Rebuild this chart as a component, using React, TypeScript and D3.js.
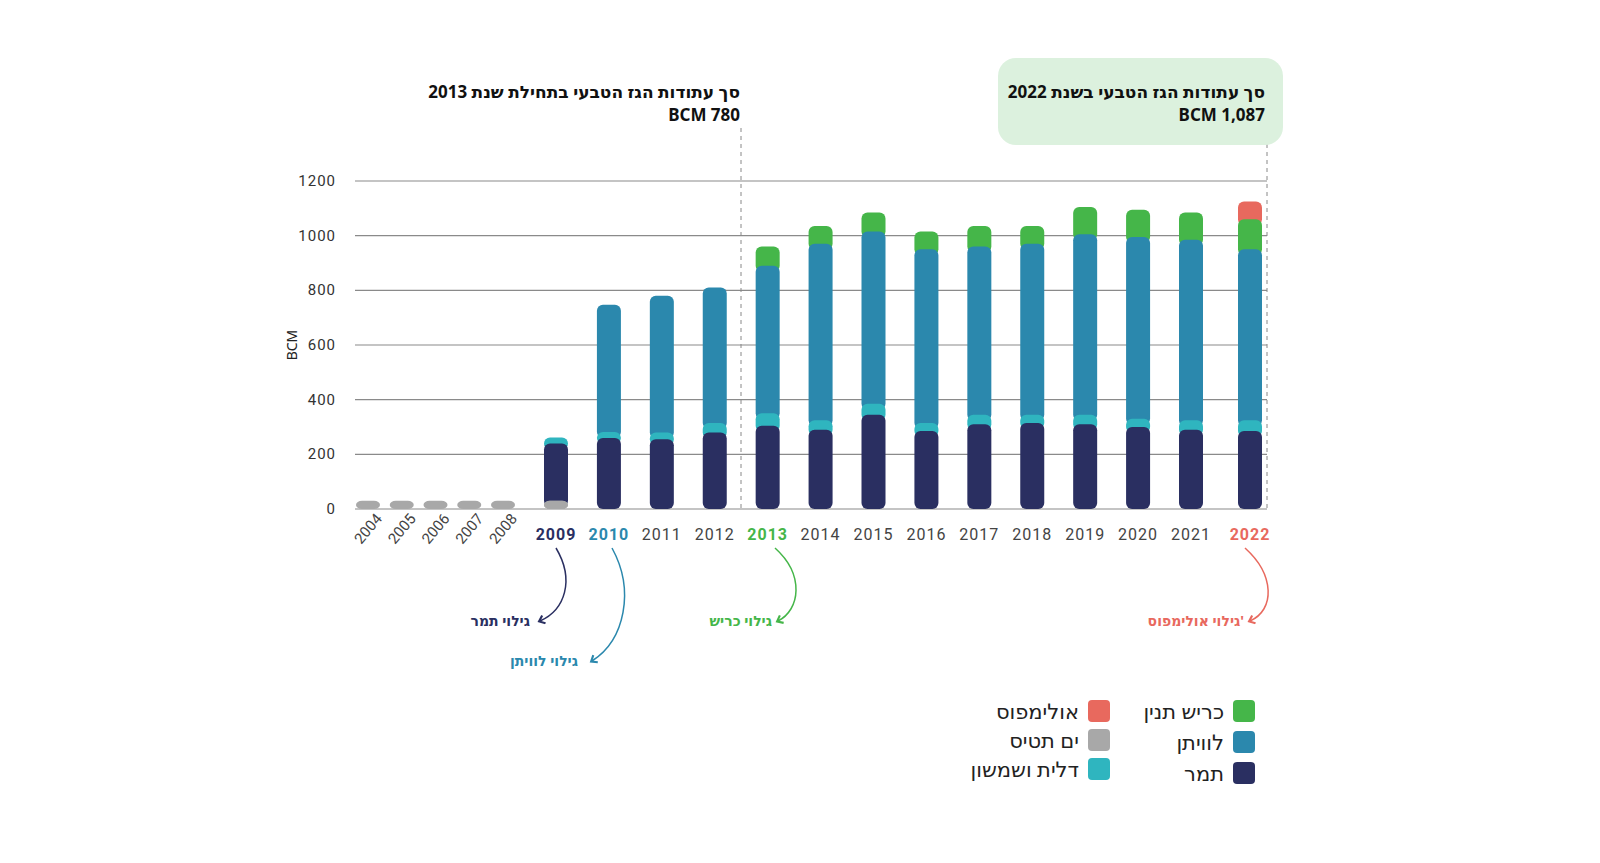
import * as d3 from "d3";

const years = [2004, 2005, 2006, 2007, 2008, 2009, 2010, 2011, 2012, 2013, 2014, 2015, 2016, 2017, 2018, 2019, 2020, 2021, 2022];
const yamTethys = [30, 30, 30, 30, 30, 30, 0, 0, 0, 0, 0, 0, 0, 0, 0, 0, 0, 0, 0];
const tamar = [0, 0, 0, 0, 0, 210, 260, 255, 280, 305, 290, 345, 285, 310, 315, 310, 300, 290, 285];
const dalit = [0, 0, 0, 0, 0, 22, 22, 25, 35, 45, 35, 40, 30, 35, 30, 35, 30, 35, 40];
const leviathan = [0, 0, 0, 0, 0, 0, 465, 500, 495, 540, 645, 630, 635, 615, 625, 660, 665, 660, 625];
const karish = [0, 0, 0, 0, 0, 0, 0, 0, 0, 70, 65, 70, 65, 75, 65, 100, 100, 100, 110];
const olympus = [0, 0, 0, 0, 0, 0, 0, 0, 0, 0, 0, 0, 0, 0, 0, 0, 0, 0, 65];
const yTicks = [0, 200, 400, 600, 800, 1000, 1200];

const C = {
  navy: "#2a2f61", blue: "#2b88ad", cyan: "#2fb5bf", green: "#45b649", red: "#e8695e", gray: "#a8a8a8",
};

// stacking order bottom -> top
const series = [
  { name: "ים תטיס", values: yamTethys, color: C.gray },
  { name: "תמר", values: tamar, color: C.navy },
  { name: "דלית ושמשון", values: dalit, color: C.cyan },
  { name: "לוויתן", values: leviathan, color: C.blue },
  { name: "כריש תנין", values: karish, color: C.green },
  { name: "אולימפוס", values: olympus, color: C.red },
];

const highlight: Record<number, string> = { 2009: C.navy, 2010: C.blue, 2013: C.green, 2022: C.red };
const font = "'Liberation Sans Narrow', 'Roboto', sans-serif";
const heb = "'Noto Sans', 'DejaVu Sans', sans-serif";

export default function App() {
  const x = d3.scaleLinear().domain([2004, 2008, 2009, 2021, 2022]).range([368, 503, 556, 1191, 1250]);
  const y = d3.scaleLinear().domain([0, 1200]).range([509, 181]);
  const bw = 24;

  const table = years.map((yr, i) => {
    const row: any = { year: yr };
    series.forEach((s) => (row[s.name] = s.values[i]));
    return row;
  });
  const stack = d3.stack<any>().keys(series.map((s) => s.name))(table);

  const rects: any[] = [];
  // draw top series first so lower segments overlap with rounded tops
  [...stack].reverse().forEach((layer, li) => {
    const s = series[series.length - 1 - li];
    layer.forEach((d, i) => {
      const v = d[1] - d[0];
      if (v <= 0) return;
      const top = y(d[1]);
      const bottom = s.name === "ים תטיס" ? y(0) : y(d[0]) + 6;
      const h = Math.max(bottom - top, 8);
      rects.push(
        <rect key={s.name + i} x={x(years[i]) - bw / 2} y={top} width={bw} height={Math.min(h, y(0) - top)} rx={6} fill={s.color} />
      );
    });
  });
  rects.push(
    <rect key="yt2009" x={x(2009) - bw / 2} y={y(30)} width={bw} height={y(0) - y(30)} rx={6} fill={C.gray} />
  );

  const arrows = [
    { year: 2009, d: "M556,548 C575,580 565,610 540,621", color: C.navy, label: "גילוי תמר", lx: 530, ly: 626 },
    { year: 2010, d: "M612,548 C635,590 625,640 592,661", color: C.blue, label: "גילוי לוויתן", lx: 578, ly: 666 },
    { year: 2013, d: "M775,548 C805,575 800,610 778,621", color: C.green, label: "גילוי כריש", lx: 772, ly: 626 },
    { year: 2022, d: "M1245,548 C1275,575 1275,610 1250,621", color: C.red, label: "'גילוי אולימפוס", lx: 1244, ly: 626 },
  ];

  const legend = [
    { name: "כריש תנין", color: C.green, x: 1244, y: 711 },
    { name: "לוויתן", color: C.blue, x: 1244, y: 742 },
    { name: "תמר", color: C.navy, x: 1244, y: 773 },
    { name: "אולימפוס", color: C.red, x: 1099, y: 711 },
    { name: "ים תטיס", color: C.gray, x: 1099, y: 740 },
    { name: "דלית ושמשון", color: C.cyan, x: 1099, y: 769 },
  ];

  // rtl text: textAnchor "start" anchors the right edge at x
  return (
    <svg width={1600} height={863} style={{ position: "absolute", left: 0, top: 0 }}>
      <defs>
        {arrows.map((a) => (
          <marker key={a.year} id={"m" + a.year} viewBox="0 0 10 10" refX="5" refY="5" markerWidth="7" markerHeight="7" orient="auto-start-reverse">
            <path d="M1,1 L6,5 L1,9" fill="none" stroke={a.color} strokeWidth={2} />
          </marker>
        ))}
      </defs>
      {yTicks.map((t) => (
        <g key={t}>
          <line x1={355} x2={1267} y1={y(t)} y2={y(t)} stroke="#8a8a8a" strokeWidth={1.2} />
          <text x={336} y={y(t) + 5} textAnchor="end" fontFamily={font} fontSize={15} fill="#333" letterSpacing={1}>{t}</text>
        </g>
      ))}
      <text transform="translate(297,345) rotate(-90)" textAnchor="middle" fontFamily={heb} fontSize={14} fill="#222">BCM</text>

      <line x1={741} x2={741} y1={128} y2={509} stroke="#888" strokeDasharray="4,4" />
      <line x1={1267} x2={1267} y1={128} y2={509} stroke="#888" strokeDasharray="4,4" />

      <text x={740} y={98} textAnchor="start" fontFamily={heb} fontWeight="bold" fontSize={17} fill="#111" direction="rtl">סך עתודות הגז הטבעי בתחילת שנת 2013</text>
      <text x={740} y={121} textAnchor="end" fontFamily={heb} fontWeight="bold" fontSize={17} fill="#111">BCM 780</text>

      <rect x={998} y={58} width={285} height={87} rx={18} fill="#dcf1de" />
      <text x={1265} y={98} textAnchor="start" fontFamily={heb} fontWeight="bold" fontSize={17} fill="#111" direction="rtl">סך עתודות הגז הטבעי בשנת 2022</text>
      <text x={1265} y={121} textAnchor="end" fontFamily={heb} fontWeight="bold" fontSize={17} fill="#111">BCM 1,087</text>

      {rects}

      {years.map((yr) =>
        yr <= 2008 ? (
          <text key={yr} transform={`translate(${x(yr) + 4},${532}) rotate(-50)`} textAnchor="middle" fontFamily={font} fontSize={15} fill="#444">{yr}</text>
        ) : (
          <text key={yr} x={x(yr)} y={540} textAnchor="middle" fontFamily={font} fontSize={16} letterSpacing={1}
            fontWeight={highlight[yr] ? "bold" : "normal"} fill={highlight[yr] ?? "#444"}>{yr}</text>
        )
      )}

      {arrows.map((a) => (
        <g key={a.year}>
          <path d={a.d} fill="none" stroke={a.color} strokeWidth={1.5} markerEnd={`url(#m${a.year})`} />
          <text x={a.lx} y={a.ly} textAnchor="start" fontFamily={heb} fontWeight="bold" fontSize={14} fill={a.color} direction="rtl">{a.label}</text>
        </g>
      ))}

      {legend.map((l) => (
        <g key={l.name}>
          <rect x={l.x - 11} y={l.y - 11} width={22} height={22} rx={4} fill={l.color} />
          <text x={l.x - 20} y={l.y + 8} textAnchor="start" fontFamily={heb} fontSize={21} fill="#222" direction="rtl">{l.name}</text>
        </g>
      ))}
    </svg>
  );
}
